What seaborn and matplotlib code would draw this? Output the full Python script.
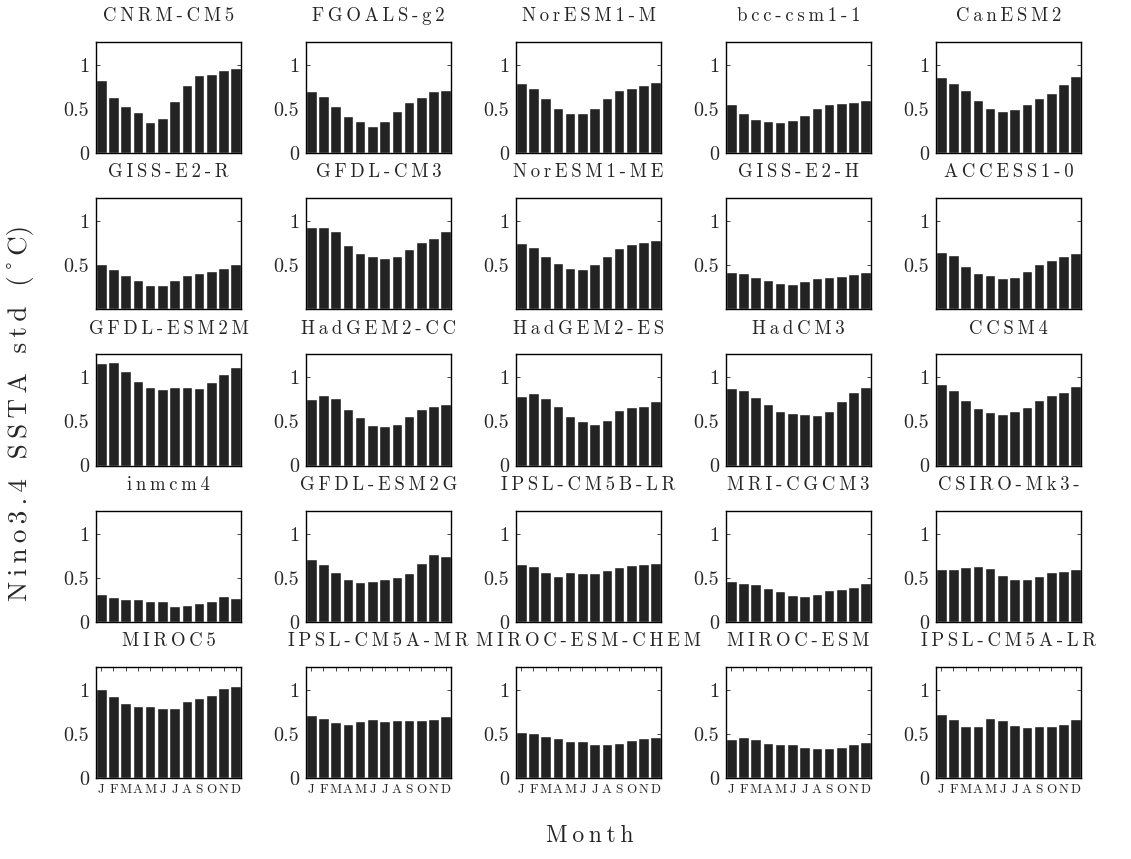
import numpy as np
import pandas as pd
import matplotlib
matplotlib.use("Agg")
import matplotlib.pyplot as plt
import seaborn as sns

# Monthly Nino3.4 SSTA standard deviation (degC), Jan..Dec, per CMIP5 model
months = ["J", "F", "M", "A", "M", "J", "J", "A", "S", "O", "N", "D"]

model_names = [
    "CNRM-CM5", "FGOALS-g2", "NorESM1-M", "bcc-csm1-1", "CanESM2",
    "GISS-E2-R", "GFDL-CM3", "NorESM1-ME", "GISS-E2-H", "ACCESS1-0",
    "GFDL-ESM2M", "HadGEM2-CC", "HadGEM2-ES", "HadCM3", "CCSM4",
    "inmcm4", "GFDL-ESM2G", "IPSL-CM5B-LR", "MRI-CGCM3", "CSIRO-Mk3-",
    "MIROC5", "IPSL-CM5A-MR", "MIROC-ESM-CHEM", "MIROC-ESM", "IPSL-CM5A-LR",
]

cnrm_cm5 = [0.83, 0.64, 0.53, 0.46, 0.35, 0.40, 0.59, 0.77, 0.88, 0.90, 0.94, 0.97]
fgoals_g2 = [0.70, 0.65, 0.53, 0.42, 0.36, 0.31, 0.36, 0.48, 0.58, 0.64, 0.70, 0.72]
noresm1_m = [0.80, 0.74, 0.62, 0.51, 0.45, 0.45, 0.51, 0.62, 0.71, 0.74, 0.77, 0.81]
bcc_csm1_1 = [0.56, 0.45, 0.39, 0.36, 0.35, 0.37, 0.43, 0.51, 0.56, 0.57, 0.58, 0.60]
canesm2 = [0.86, 0.80, 0.71, 0.60, 0.51, 0.48, 0.50, 0.56, 0.62, 0.68, 0.78, 0.87]

giss_e2_r = [0.51, 0.46, 0.39, 0.33, 0.28, 0.28, 0.33, 0.39, 0.41, 0.43, 0.47, 0.51]
gfdl_cm3 = [0.93, 0.93, 0.89, 0.73, 0.64, 0.60, 0.58, 0.61, 0.68, 0.76, 0.81, 0.89]
noresm1_me = [0.75, 0.71, 0.61, 0.53, 0.47, 0.46, 0.51, 0.61, 0.69, 0.74, 0.76, 0.79]
giss_e2_h = [0.42, 0.41, 0.37, 0.33, 0.30, 0.29, 0.32, 0.35, 0.37, 0.38, 0.40, 0.42]
access1_0 = [0.65, 0.62, 0.49, 0.41, 0.39, 0.35, 0.37, 0.43, 0.51, 0.56, 0.61, 0.64]

gfdl_esm2m = [1.16, 1.17, 1.07, 0.96, 0.89, 0.87, 0.89, 0.89, 0.88, 0.95, 1.04, 1.12]
hadgem2_cc = [0.76, 0.80, 0.77, 0.64, 0.55, 0.46, 0.45, 0.47, 0.56, 0.64, 0.67, 0.70]
hadgem2_es = [0.79, 0.82, 0.77, 0.67, 0.56, 0.50, 0.47, 0.52, 0.63, 0.66, 0.68, 0.73]
hadcm3 = [0.88, 0.86, 0.78, 0.70, 0.62, 0.60, 0.59, 0.57, 0.62, 0.73, 0.83, 0.89]
ccsm4 = [0.93, 0.86, 0.74, 0.65, 0.61, 0.58, 0.62, 0.66, 0.74, 0.80, 0.84, 0.90]

inmcm4 = [0.31, 0.28, 0.26, 0.26, 0.24, 0.24, 0.18, 0.185, 0.215, 0.24, 0.29, 0.275]
gfdl_esm2g = [0.71, 0.66, 0.57, 0.48, 0.45, 0.46, 0.49, 0.51, 0.55, 0.67, 0.77, 0.75]
ipsl_cm5b_lr = [0.66, 0.63, 0.57, 0.52, 0.56, 0.55, 0.55, 0.59, 0.62, 0.64, 0.66, 0.67]
mri_cgcm3 = [0.46, 0.44, 0.43, 0.385, 0.35, 0.305, 0.295, 0.32, 0.36, 0.37, 0.40, 0.445]
csiro_mk3 = [0.60, 0.60, 0.62, 0.63, 0.61, 0.53, 0.49, 0.49, 0.52, 0.56, 0.58, 0.60]

miroc5 = [1.01, 0.93, 0.85, 0.82, 0.82, 0.79, 0.80, 0.87, 0.91, 0.94, 1.02, 1.04]
ipsl_cm5a_mr = [0.715, 0.68, 0.64, 0.615, 0.65, 0.67, 0.645, 0.655, 0.655, 0.66, 0.67, 0.70]
miroc_esm_chem = [0.52, 0.51, 0.48, 0.45, 0.42, 0.42, 0.385, 0.385, 0.40, 0.43, 0.45, 0.47]
miroc_esm = [0.44, 0.46, 0.44, 0.40, 0.39, 0.385, 0.35, 0.335, 0.34, 0.355, 0.385, 0.41]
ipsl_cm5a_lr = [0.73, 0.67, 0.585, 0.585, 0.68, 0.66, 0.60, 0.58, 0.59, 0.59, 0.61, 0.665]

model_values = [
    cnrm_cm5, fgoals_g2, noresm1_m, bcc_csm1_1, canesm2,
    giss_e2_r, gfdl_cm3, noresm1_me, giss_e2_h, access1_0,
    gfdl_esm2m, hadgem2_cc, hadgem2_es, hadcm3, ccsm4,
    inmcm4, gfdl_esm2g, ipsl_cm5b_lr, mri_cgcm3, csiro_mk3,
    miroc5, ipsl_cm5a_mr, miroc_esm_chem, miroc_esm, ipsl_cm5a_lr,
]

y_ticks = [0, 0.5, 1]
y_tick_labels = ["0", "0.5", "1"]

# long-form table for seaborn
records = []
for name, vals in zip(model_names, model_values):
    for m, v in enumerate(vals):
        records.append({"model": name, "month": m, "std": v})
df = pd.DataFrame(records)

sns.set_style("white")
FAMILY = ["cmr10", "DejaVu Serif"]
plt.rcParams["font.family"] = FAMILY
plt.rcParams["axes.formatter.use_mathtext"] = True

W, H = 1131, 859
fig = plt.figure(figsize=(W / 100, H / 100), dpi=100)

TS = "\u2009"


def spaced(s):
    return TS.join(list(s))


left0, col_step, ax_w = 96, 210, 145
bottom_last, row_step, ax_h = 778, 156.25, 111
bar_color = "#232323"

for i, name in enumerate(model_names):
    r, c = divmod(i, 5)
    x0 = left0 + c * col_step
    yb = bottom_last - (4 - r) * row_step
    ax = fig.add_axes([x0 / W, (H - yb) / H, ax_w / W, ax_h / H])
    sub = df[df["model"] == name]
    sns.barplot(data=sub, x="month", y="std", ax=ax, color=bar_color,
                saturation=1, width=0.86, order=list(range(12)))
    ax.set_xlim(-0.43, 11.43)
    ax.set_ylim(0, 1.26)
    ax.set_xlabel("")
    ax.set_ylabel("")
    if r == 1:
        ax.set_yticks(y_ticks[1:])
        ax.set_yticklabels(y_tick_labels[1:])
    else:
        ax.set_yticks(y_ticks)
        ax.set_yticklabels(y_tick_labels)
    ax.tick_params(axis="y", direction="in", length=3, width=0.6,
                   left=True, right=True, labelsize=14.5, pad=5)
    if r == 4:
        ax.set_xticks(range(12))
        ax.set_xticklabels(months)
        ax.tick_params(axis="x", direction="in", length=3, width=0.6,
                       bottom=True, top=True, labelsize=9.5, pad=4)
    else:
        ax.set_xticks([])
    for lab in ax.get_xticklabels() + ax.get_yticklabels():
        lab.set_fontfamily(FAMILY)
    for sp in ax.spines.values():
        sp.set_visible(True)
        sp.set_color("black")
        sp.set_linewidth(1.0)
    ax.set_title(spaced(name), fontsize=13.5, pad=15, family=FAMILY)

fig.text(21 / W, 1 - 413 / H, spaced("Nino3.4 SSTA std (") + "\u00baC)",
         rotation=90, ha="center", va="center", fontsize=19.5, family=FAMILY)
fig.text(590 / W, 1 - 836 / H, spaced("Month"), ha="center", va="center",
         fontsize=17, family=FAMILY)

fig.savefig("out.png", dpi=100, facecolor="white")
